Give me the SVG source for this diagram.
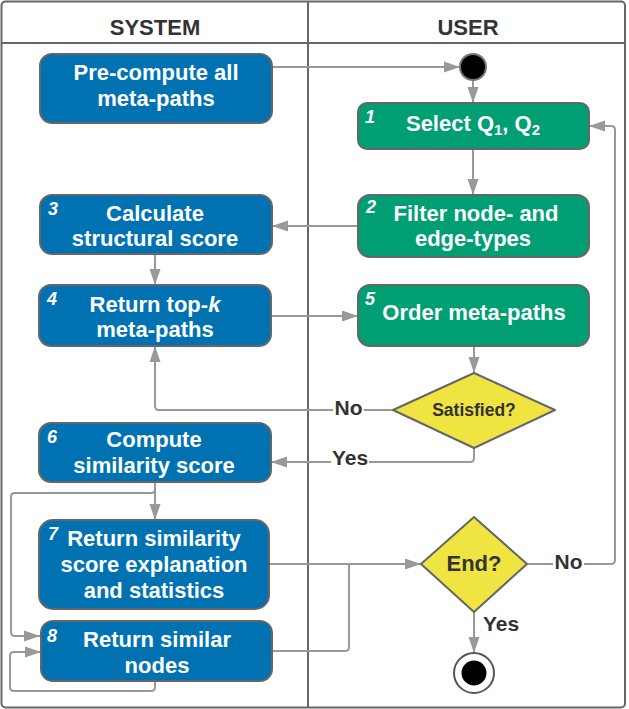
<svg xmlns="http://www.w3.org/2000/svg" width="629" height="709" viewBox="0 0 629 709">
<style>
.lane{fill:none;stroke:#666;stroke-width:2}
.hdr{font-family:"Liberation Sans",Arial,sans-serif;font-weight:bold;font-size:22px;fill:#333;text-anchor:middle}
.blue{fill:#0072B2;stroke:#666;stroke-width:2}
.green{fill:#009E73;stroke:#666;stroke-width:2}
.dia{fill:#F0E442;stroke:#666;stroke-width:2;stroke-linejoin:round}
.t{font-family:"Liberation Sans",Arial,sans-serif;font-weight:bold;font-size:22px;fill:#fff;text-anchor:middle}
.n{font-family:"Liberation Sans",Arial,sans-serif;font-weight:bold;font-style:italic;font-size:18px;fill:#fff}
.dt{font-family:"Liberation Sans",Arial,sans-serif;font-weight:bold;fill:#333;text-anchor:middle}
.lbl{font-family:"Liberation Sans",Arial,sans-serif;font-weight:bold;font-size:21px;fill:#333}
.c{fill:none;stroke:#999;stroke-width:2}
.ca{fill:none;stroke:#999;stroke-width:2;marker-end:url(#ah)}
</style>
<defs>
<marker id="ah" markerUnits="userSpaceOnUse" markerWidth="16" markerHeight="12" refX="16" refY="6" orient="auto">
<path d="M0,0.5 L16,6 L0,11.5 z" fill="#999"/>
</marker>
</defs>
<rect width="629" height="709" fill="#fff"/>
<g id="lanes">
<rect class="lane" x="1.5" y="1.5" width="623.5" height="706" rx="4"/>
<line class="lane" x1="1.5" y1="43" x2="625" y2="43"/>
<line class="lane" x1="308" y1="1.5" x2="308" y2="707.5"/>
<text class="hdr" x="155" y="35">SYSTEM</text>
<text class="hdr" x="468" y="35">USER</text>
</g>
<g id="connectors">
<path class="ca" d="M272,67 H460"/>
<path class="ca" d="M473,80 V103"/>
<path class="ca" d="M473,149 V195"/>
<path class="ca" d="M358,226 H272"/>
<path class="ca" d="M155,254 V285"/>
<path class="ca" d="M271,316 H358"/>
<path class="ca" d="M474,346 V373"/>
<path class="ca" d="M393,410 H159 Q155,410 155,406 V346"/>
<path class="ca" d="M474,448 V458 Q474,462 470,462 H271"/>
<path class="ca" d="M155,482 V520"/>
<path class="ca" d="M155,482 V489 Q155,493 151,493 H15 Q11,493 11,497 V632 Q11,636 15,636 H40"/>
<path class="ca" d="M155,681 V687 Q155,691 151,691 H14 Q10,691 10,687 V656 Q10,652 14,652 H41"/>
<path class="ca" d="M269,564 H421"/>
<path class="c" d="M272,651 H345 Q349,651 349,647 V564"/>
<path class="ca" d="M527,564 H611 Q615,564 615,560 V130 Q615,126 611,126 H589"/>
<path class="ca" d="M474,612 V653"/>
<rect x="333" y="398" width="31" height="22" fill="#fff"/>
<text class="lbl" x="348.5" y="415" text-anchor="middle">No</text>
<rect x="331" y="450" width="38" height="22" fill="#fff"/>
<text class="lbl" x="350" y="465" text-anchor="middle">Yes</text>
<rect x="553" y="552" width="31" height="22" fill="#fff"/>
<text class="lbl" x="568.5" y="569" text-anchor="middle">No</text>
<text class="lbl" x="483" y="631">Yes</text>
</g>
<g id="start">
<circle cx="473" cy="67" r="13" fill="#000" stroke="#777" stroke-width="2"/>
</g>
<g id="precompute">
<rect class="blue" x="40" y="54" width="232" height="69" rx="12"/>
<text class="t" x="156" y="80">Pre-compute all</text>
<text class="t" x="156" y="106">meta-paths</text>
</g>
<g id="n1">
<rect class="green" x="358" y="103" width="231" height="46" rx="9"/>
<text class="n" x="365" y="123">1</text>
<text class="t" x="473" y="131">Select Q<tspan font-size="15" dy="4">1</tspan><tspan dy="-4">, Q</tspan><tspan font-size="15" dy="4">2</tspan></text>
</g>
<g id="n2">
<rect class="green" x="358" y="195" width="231" height="62" rx="12"/>
<text class="n" x="366" y="213">2</text>
<text class="t" x="476" y="221">Filter node- and</text>
<text class="t" x="473" y="246">edge-types</text>
</g>
<g id="n3">
<rect class="blue" x="40" y="195" width="232" height="59" rx="12"/>
<text class="n" x="48" y="215">3</text>
<text class="t" x="155" y="221">Calculate</text>
<text class="t" x="155" y="246">structural score</text>
</g>
<g id="n4">
<rect class="blue" x="39" y="285" width="232" height="61" rx="12"/>
<text class="n" x="47" y="305">4</text>
<text class="t" x="155" y="312">Return top-<tspan font-style="italic">k</tspan></text>
<text class="t" x="155" y="337">meta-paths</text>
</g>
<g id="n5">
<rect class="green" x="358" y="285" width="231" height="61" rx="12"/>
<text class="n" x="365" y="305">5</text>
<text class="t" x="474" y="320">Order meta-paths</text>
</g>
<g id="satisfied">
<polygon class="dia" points="474,373 555,410 474,448 393,410"/>
<text class="dt" x="474" y="416" font-size="17.5">Satisfied?</text>
</g>
<g id="n6">
<rect class="blue" x="39" y="423" width="232" height="59" rx="12"/>
<text class="n" x="47" y="443">6</text>
<text class="t" x="154" y="447">Compute</text>
<text class="t" x="154" y="473">similarity score</text>
</g>
<g id="n7">
<rect class="blue" x="39" y="520" width="230" height="89" rx="14"/>
<text class="n" x="48" y="540">7</text>
<text class="t" x="154" y="546">Return similarity</text>
<text class="t" x="154" y="572">score explanation</text>
<text class="t" x="154" y="598">and statistics</text>
</g>
<g id="n8">
<rect class="blue" x="41" y="621" width="231" height="60" rx="12"/>
<text class="n" x="47" y="642">8</text>
<text class="t" x="157" y="647">Return similar</text>
<text class="t" x="157" y="673">nodes</text>
</g>
<g id="end">
<polygon class="dia" points="474,517 527,564 474,612 421,564"/>
<text class="dt" x="474" y="571" font-size="22">End?</text>
</g>
<g id="final">
<circle cx="474" cy="673" r="20" fill="#fff" stroke="#555" stroke-width="2"/>
<circle cx="474" cy="673" r="12.5" fill="#000"/>
</g>
</svg>
